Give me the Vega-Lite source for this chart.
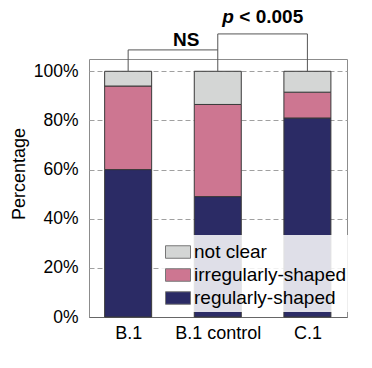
{
  "$schema": "https://vega.github.io/schema/vega-lite/v6.json",
  "width": 258,
  "height": 258,
  "autosize": {"type": "none"},
  "padding": {"left": 89, "top": 59, "right": 25, "bottom": 51},
  "background": "white",
  "config": {
    "font": "Liberation Sans",
    "view": {"stroke": "#8c8c8c", "strokeWidth": 1}
  },
  "layer": [
    {
      "data": {
        "values": [
          {"group": "B.1", "pos": 0, "category": "regularly-shaped", "level": 1, "value": 60},
          {"group": "B.1", "pos": 0, "category": "irregularly-shaped", "level": 2, "value": 34},
          {"group": "B.1", "pos": 0, "category": "not clear", "level": 3, "value": 6},
          {"group": "B.1 control", "pos": 1, "category": "regularly-shaped", "level": 1, "value": 49},
          {"group": "B.1 control", "pos": 1, "category": "irregularly-shaped", "level": 2, "value": 37.5},
          {"group": "B.1 control", "pos": 1, "category": "not clear", "level": 3, "value": 13.5},
          {"group": "C.1", "pos": 2, "category": "regularly-shaped", "level": 1, "value": 81},
          {"group": "C.1", "pos": 2, "category": "irregularly-shaped", "level": 2, "value": 10.5},
          {"group": "C.1", "pos": 2, "category": "not clear", "level": 3, "value": 8.5}
        ]
      },
      "mark": {"type": "bar", "width": 47, "stroke": "#3a3a3a", "strokeWidth": 1},
      "encoding": {
        "x": {
          "field": "pos",
          "type": "quantitative",
          "scale": {"domain": [-0.381, 2.386], "nice": false, "zero": false},
          "axis": {
            "values": [0, 1, 2],
            "labelExpr": "['B.1', 'B.1 control', 'C.1'][datum.value]",
            "title": null,
            "grid": false,
            "ticks": false,
            "domainColor": "#666666",
            "labelFontSize": 18,
            "labelColor": "#000000",
            "labelPadding": 7
          }
        },
        "y": {
          "field": "value",
          "type": "quantitative",
          "stack": "zero",
          "scale": {"domain": [0, 105], "nice": false},
          "axis": {
            "values": [0, 10, 20, 30, 40, 50, 60, 70, 80, 90, 100],
            "labelExpr": "datum.value % 20 == 0 ? datum.value + '%' : ''",
            "title": "Percentage",
            "titleFontSize": 18,
            "titleFontWeight": "normal",
            "titleColor": "#000000",
            "titlePadding": 5,
            "titleY": 114.5,
            "grid": true,
            "gridDash": [5, 3],
            "gridColor": "#a0a0a0",
            "gridWidth": 1,
            "ticks": false,
            "domain": false,
            "labelFontSize": 17.5,
            "labelColor": "#000000",
            "labelPadding": 11
          }
        },
        "color": {
          "field": "category",
          "type": "nominal",
          "scale": {
            "domain": ["not clear", "irregularly-shaped", "regularly-shaped"],
            "range": ["#d4d6d5", "#cd7691", "#2b2b65"]
          },
          "legend": {
            "orient": "none",
            "legendX": 72,
            "legendY": 176,
            "title": null,
            "symbolType": "M-1,-0.5H1V0.5H-1Z",
            "symbolSize": 625,
            "symbolStrokeColor": "#777777",
            "symbolStrokeWidth": 1,
            "symbolOpacity": 1,
            "labelFontSize": 19,
            "labelColor": "#000000",
            "labelOffset": 3,
            "labelLimit": 300,
            "rowPadding": 0,
            "padding": 4,
            "fillColor": "rgba(255,255,255,0.85)"
          }
        },
        "order": {"field": "level", "type": "quantitative"}
      }
    },
    {
      "data": {
        "values": [
          {"x": 0, "x2": 0, "y": 100, "y2": 108.7},
          {"x": 0, "x2": 1, "y": 108.7, "y2": 108.7},
          {"x": 1, "x2": 1, "y": 100, "y2": 115.2},
          {"x": 1, "x2": 2, "y": 115.2, "y2": 115.2},
          {"x": 2, "x2": 2, "y": 100, "y2": 115.2}
        ]
      },
      "mark": {"type": "rule", "color": "#555555", "strokeWidth": 1, "clip": false},
      "encoding": {
        "x": {"field": "x", "type": "quantitative"},
        "x2": {"field": "x2"},
        "y": {"field": "y", "type": "quantitative"},
        "y2": {"field": "y2"}
      }
    },
    {
      "data": {
        "values": [
          {"label": "NS", "x": 0.5, "y": 112.6, "align": "center"},
          {"label": "< 0.005", "x": 1.24, "y": 122, "align": "left"}
        ]
      },
      "mark": {"type": "text", "fontSize": 19, "fontWeight": "bold", "baseline": "middle", "align": "left", "clip": false},
      "encoding": {
        "x": {"field": "x", "type": "quantitative"},
        "y": {"field": "y", "type": "quantitative"},
        "text": {"field": "label"},
        "align": {"field": "align"}
      }
    },
    {
      "data": {
        "values": [
          {"label": "p", "x": 1.18, "y": 122}
        ]
      },
      "mark": {"type": "text", "fontSize": 19, "fontWeight": "bold", "fontStyle": "italic", "baseline": "middle", "align": "right", "clip": false},
      "encoding": {
        "x": {"field": "x", "type": "quantitative"},
        "y": {"field": "y", "type": "quantitative"},
        "text": {"field": "label"}
      }
    }
  ]
}
